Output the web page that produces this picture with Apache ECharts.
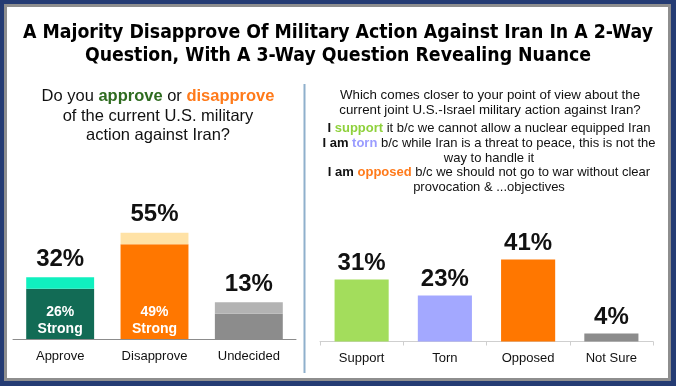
<!DOCTYPE html>
<html>
<head>
<meta charset="utf-8">
<script src="https://cdn.jsdelivr.net/npm/echarts@6/dist/echarts.min.js"></script>
<style>
html,body{margin:0;padding:0;background:#fff;}
#c{width:676px;height:386px;}
</style>
</head>
<body>
<div id="c"></div>
<script>
// ---- data ----
var leftCategories = ['Approve', 'Disapprove', 'Undecided'];
var leftStrong = [26, 49, 13];      // dark segment
var leftLean = [6, 6, 6];           // light top segment
var leftTotals = [32, 55, 13];      // labels above bars
var leftStrongLabels = ['26%\nStrong', '49%\nStrong', ''];

var rightCategories = ['Support', 'Torn', 'Opposed', 'Not Sure'];
var rightValues = [31, 23, 41, 4];

var mainTitle = 'A Majority Disapprove Of Military Action Against Iran In A 2-Way\nQuestion, With A 3-Way Question Revealing Nuance';

// ---- colours ----
var strongColors = ['#126b55', '#ff7700', '#8c8c8c'];
var leanColors = ['#10f0bf', '#ffe2a6', '#b3b3b3'];
var rightColors = ['#a3dd5c', '#a3a8ff', '#ff7700', '#8c8c8c'];

var chart = echarts.init(document.getElementById('c'), null, {renderer: 'canvas'});
var baseFont = 'Liberation Sans, Arial, sans-serif';

function rs(extra) {
  var o = {fontFamily: baseFont, fontSize: 13, lineHeight: 14.8, color: '#111', fontWeight: 'normal'};
  for (var k in extra) o[k] = extra[k];
  return o;
}

var option = {
  animation: false,
  graphic: [
    {type: 'rect', shape: {x: 0, y: 0, width: 676, height: 386}, style: {fill: '#243b73'}, z: -10, silent: true},
    {type: 'rect', shape: {x: 4, y: 4, width: 667, height: 377}, style: {fill: '#8e8e8e'}, z: -9, silent: true},
    {type: 'rect', shape: {x: 7, y: 7, width: 661, height: 371}, style: {fill: '#ffffff'}, z: -8, silent: true},
    {type: 'line', shape: {x1: 304.5, y1: 84, x2: 304.5, y2: 373}, style: {stroke: '#8fb0cc', lineWidth: 2}, z: -7, silent: true}
  ],
  title: [
    {
      text: mainTitle,
      left: 338, top: 21, textAlign: 'center', padding: 0,
      textStyle: {fontFamily: 'DejaVu Sans Condensed, sans-serif', fontWeight: 'bold', fontSize: 19.3, lineHeight: 23.5, color: '#000'}
    },
    {
      text: '{a|Do you }{g|approve}{a| or }{o|disapprove}\n{a|of the current U.S. military}\n{a|action against Iran?}',
      left: 158, top: 87, textAlign: 'center', padding: 0,
      textStyle: {
        fontFamily: baseFont, fontSize: 16.5, lineHeight: 19.5, color: '#111', fontWeight: 'normal',
        rich: {
          a: {fontFamily: baseFont, fontSize: 16.5, lineHeight: 19.5, color: '#111', fontWeight: 'normal'},
          g: {fontFamily: baseFont, fontSize: 16.5, lineHeight: 19.5, color: '#2e6b1f', fontWeight: 'bold'},
          o: {fontFamily: baseFont, fontSize: 16.5, lineHeight: 19.5, color: '#ff7a1a', fontWeight: 'bold'}
        }
      }
    },
    {
      text: 'Which comes closer to your point of view about the\ncurrent joint U.S.-Israel military action against Iran?',
      left: 490, top: 87.5, textAlign: 'center', padding: 0,
      textStyle: {fontFamily: baseFont, fontSize: 13.3, lineHeight: 15, color: '#111', fontWeight: 'normal'}
    },
    {
      text: '{b|I }{s|support}{a| it b/c we cannot allow a nuclear equipped Iran}\n' +
            '{b|I am }{t|torn}{a| b/c while Iran is a threat to peace, this is not the}\n' +
            '{a|way to handle it}\n' +
            '{b|I am }{o|opposed}{a| b/c we should not go to war without clear}\n' +
            '{a|provocation & ...objectives}',
      left: 489, top: 121, textAlign: 'center', padding: 0,
      textStyle: {
        fontFamily: baseFont, fontSize: 13, lineHeight: 14.8, color: '#111', fontWeight: 'normal',
        rich: {
          a: rs({}),
          b: rs({fontWeight: 'bold'}),
          s: rs({color: '#8fd13c', fontWeight: 'bold'}),
          t: rs({color: '#9a9cff', fontWeight: 'bold'}),
          o: rs({color: '#ff7a1a', fontWeight: 'bold'})
        }
      }
    }
  ],
  grid: [
    {left: 13, right: 380, top: 223, bottom: 47, containLabel: false},
    {left: 320, right: 23, top: 241.5, bottom: 44.5, containLabel: false}
  ],
  xAxis: [
    {
      type: 'category', gridIndex: 0, data: leftCategories,
      axisLine: {lineStyle: {color: '#8c8c8c', width: 1}},
      axisTick: {show: false},
      axisLabel: {color: '#111', fontFamily: baseFont, fontSize: 13, margin: 11}
    },
    {
      type: 'category', gridIndex: 1, data: rightCategories,
      axisLine: {lineStyle: {color: '#cfcfcf', width: 1}},
      axisTick: {show: true, length: 4, lineStyle: {color: '#cfcfcf'}},
      axisLabel: {color: '#111', fontFamily: baseFont, fontSize: 13, margin: 10}
    }
  ],
  yAxis: [
    {type: 'value', gridIndex: 0, min: 0, max: 60, show: false},
    {type: 'value', gridIndex: 1, min: 0, max: 50, show: false}
  ],
  series: [
    {
      type: 'bar', xAxisIndex: 0, yAxisIndex: 0, stack: 'l', barCategoryGap: '28%',
      data: leftStrong.map(function (v, i) {
        return {value: v, itemStyle: {color: strongColors[i]}};
      }),
      label: {
        show: true, position: 'insideBottom', distance: 1,
        formatter: function (p) { return leftStrongLabels[p.dataIndex]; },
        color: '#fff', fontFamily: baseFont, fontWeight: 'bold', fontSize: 14, lineHeight: 17
      }
    },
    {
      type: 'bar', xAxisIndex: 0, yAxisIndex: 0, stack: 'l', barCategoryGap: '28%',
      data: leftLean.map(function (v, i) {
        return {value: v, itemStyle: {color: leanColors[i]}};
      }),
      label: {
        show: true, position: 'top', distance: 6,
        formatter: function (p) { return leftTotals[p.dataIndex] + '%'; },
        color: '#111', fontFamily: baseFont, fontWeight: 'bold', fontSize: 24
      }
    },
    {
      type: 'bar', xAxisIndex: 1, yAxisIndex: 1, barCategoryGap: '35%',
      data: rightValues.map(function (v, i) {
        return {value: v, itemStyle: {color: rightColors[i]}};
      }),
      label: {
        show: true, position: 'top', distance: 4,
        formatter: function (p) { return p.value + '%'; },
        color: '#111', fontFamily: baseFont, fontWeight: 'bold', fontSize: 24
      }
    }
  ]
};
chart.setOption(option);
</script>
</body>
</html>
